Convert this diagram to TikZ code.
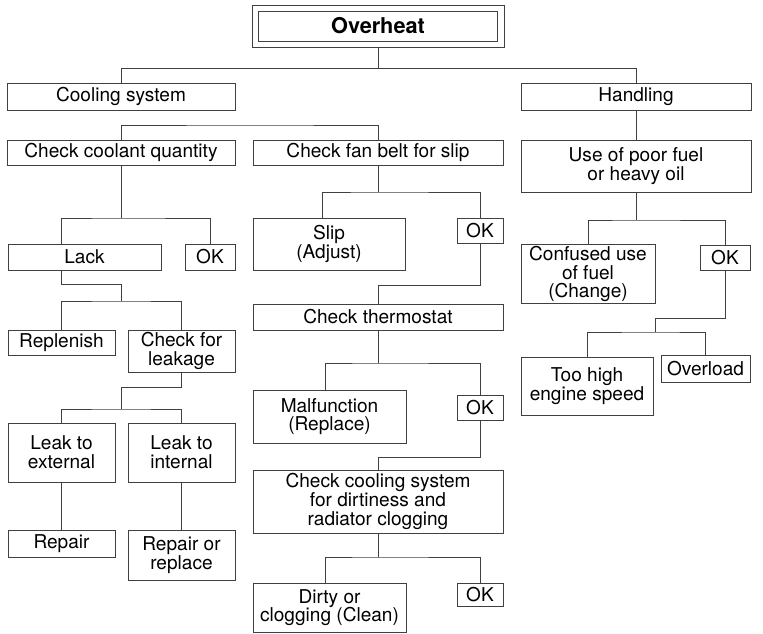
\documentclass[tikz,border=0pt]{standalone}
\usepackage{fontspec}
\setmainfont{TeX Gyre Heros}
\usetikzlibrary{positioning, calc}

\begin{document}
\begin{tikzpicture}[%
        x=0.75pt, y=-0.75pt,
        box/.style={rectangle, draw=black!75, line width=0.5pt, inner sep=1pt, align=center, font=\fontsize{14.3}{14}\selectfont},
        sz/.style 2 args={minimum width=#1*0.75pt, minimum height=#2*0.75pt},
        title/.style={box, font=\fontsize{16.3}{18}\selectfont\bfseries},
        link/.style={draw=black!75, line width=0.5pt}%
    ]
        \useasboundingbox (0,0) rectangle (763,634);

        \node[title, sz={252}{42}] (over) at (378,26) {Overheat};
        \draw[link] ([shift={(5pt,-5pt)}]over.north west) rectangle ([shift={(-5pt,4.5pt)}]over.south east);

        \node[box, sz={228}{27}] (cool) at (121,96.5) {Cooling system};
        \node[box, sz={230}{27}] (hand) at (636,96.5) {Handling};

        \node[box, sz={228}{25}] (ccq) at (121,152.5) {Check coolant quantity};
        \node[box, sz={250}{25}] (fan) at (378,152.5) {Check fan belt for slip};
        \node[box, sz={230}{52}] (fuel) at (636,166) {Use of poor fuel\\or heavy oil};

        \node[box, sz={153}{26}] (lack) at (84.5,257) {Lack};
        \node[box, sz={50}{26}] (ok1) at (210,257) {OK};
        \node[box, sz={107}{25}] (repl) at (61.5,342.5) {Replenish};
        \node[box, sz={107}{42}] (leak) at (181.5,351) {Check for\\leakage};
        \node[box, sz={107}{59}] (ext) at (61.5,452.5) {Leak to\\external};
        \node[box, sz={107}{59}] (int) at (181.5,452.5) {Leak to\\internal};
        \node[box, sz={107}{27}] (rep1) at (61.5,543.5) {Repair};
        \node[box, sz={107}{50}] (rep2) at (181.5,555) {Repair or\\replace};

        \node[box, sz={152}{52}] (slip) at (329,244) {Slip\\(Adjust)};
        \node[box, sz={46}{25}] (ok2) at (480,230.5) {OK};
        \node[box, sz={250}{26}] (therm) at (378,317) {Check thermostat};
        \node[box, sz={153}{53}] (malf) at (329.5,416.5) {Malfunction\\(Replace)};
        \node[box, sz={46}{25}] (ok3) at (480,407.5) {OK};
        \node[box, sz={250}{63}] (dirtchk) at (378,501.5) {Check cooling system\\for dirtiness and\\radiator clogging};
        \node[box, sz={153}{49}] (dirty) at (329.5,607.5) {Dirty or\\clogging (Clean)};
        \node[box, sz={46}{23}] (ok4) at (480,594.5) {OK};

        \node[box, sz={134}{58}] (conf) at (588,274) {Confused use\\of fuel\\(Change)};
        \node[box, sz={50}{25}] (ok5) at (725,257.5) {OK};
        \node[box, sz={132}{58}] (high) at (587,386) {Too high\\engine speed};
        \node[box, sz={89}{27}] (overl) at (705.5,368.5) {Overload};

        \coordinate (b1) at (378,68);
        \coordinate (b2) at (250,125);
        \coordinate (b3) at (121,218);
        \coordinate (j4) at (121,284);
        \coordinate (b4) at (121,301);
        \coordinate (j5) at (121,387);
        \coordinate (b5) at (121,409);
        \coordinate (b7) at (378,192);
        \coordinate (j8) at (480,285);
        \coordinate (b9) at (378,363);
        \coordinate (j10) at (480,457);
        \coordinate (b11) at (378,557);
        \coordinate (b13) at (636,220);
        \coordinate (j14) at (725,318);
        \coordinate (b14) at (655,332);

        \draw[link] (over.south) -- (b1) -| (cool.north);
        \draw[link] (b1) -| (hand.north);

        \draw[link] (ccq.north) |- (b2) -| (fan.north);

        \draw[link] (ccq.south) -- (b3);
        \draw[link] (lack.north -| repl.north) |- (b3) -| (ok1.north);
        \draw[link] (lack.south -| repl.north) |- (j4) -- (b4);
        \draw[link] (repl.north) |- (b4) -| (leak.north);
        \draw[link] (leak.south) |- (j5) -- (b5);
        \draw[link] (ext.north) |- (b5) -| (int.north);
        \draw[link] (ext) -- (rep1);
        \draw[link] (int) -- (rep2);

        \draw[link] (fan.south) -- (b7);
        \draw[link] ([xshift=-5pt]slip.north) |- (b7) -| (ok2.north);
        \draw[link] (ok2.south) -- (j8) -| (therm.north);
        \draw[link] (therm.south) -- (b9);
        \draw[link] ([xshift=-3pt]malf.north) |- (b9) -| (ok3.north);
        \draw[link] (ok3.south) -- (j10) -| (dirtchk.north);
        \draw[link] (dirtchk.south) -- (b11);
        \draw[link] ([xshift=-3pt]dirty.north) |- (b11) -| (ok4.north);

        \draw[link] (hand) -- (fuel);
        \draw[link] (fuel.south) -- (b13);
        \draw[link] (conf.north) |- (b13) -| (ok5.north);
        \draw[link] (ok5.south) -- (j14) -| (b14);
        \draw[link] (high.north) |- (b14) -| (overl.north);
    \end{tikzpicture}
\end{document}
